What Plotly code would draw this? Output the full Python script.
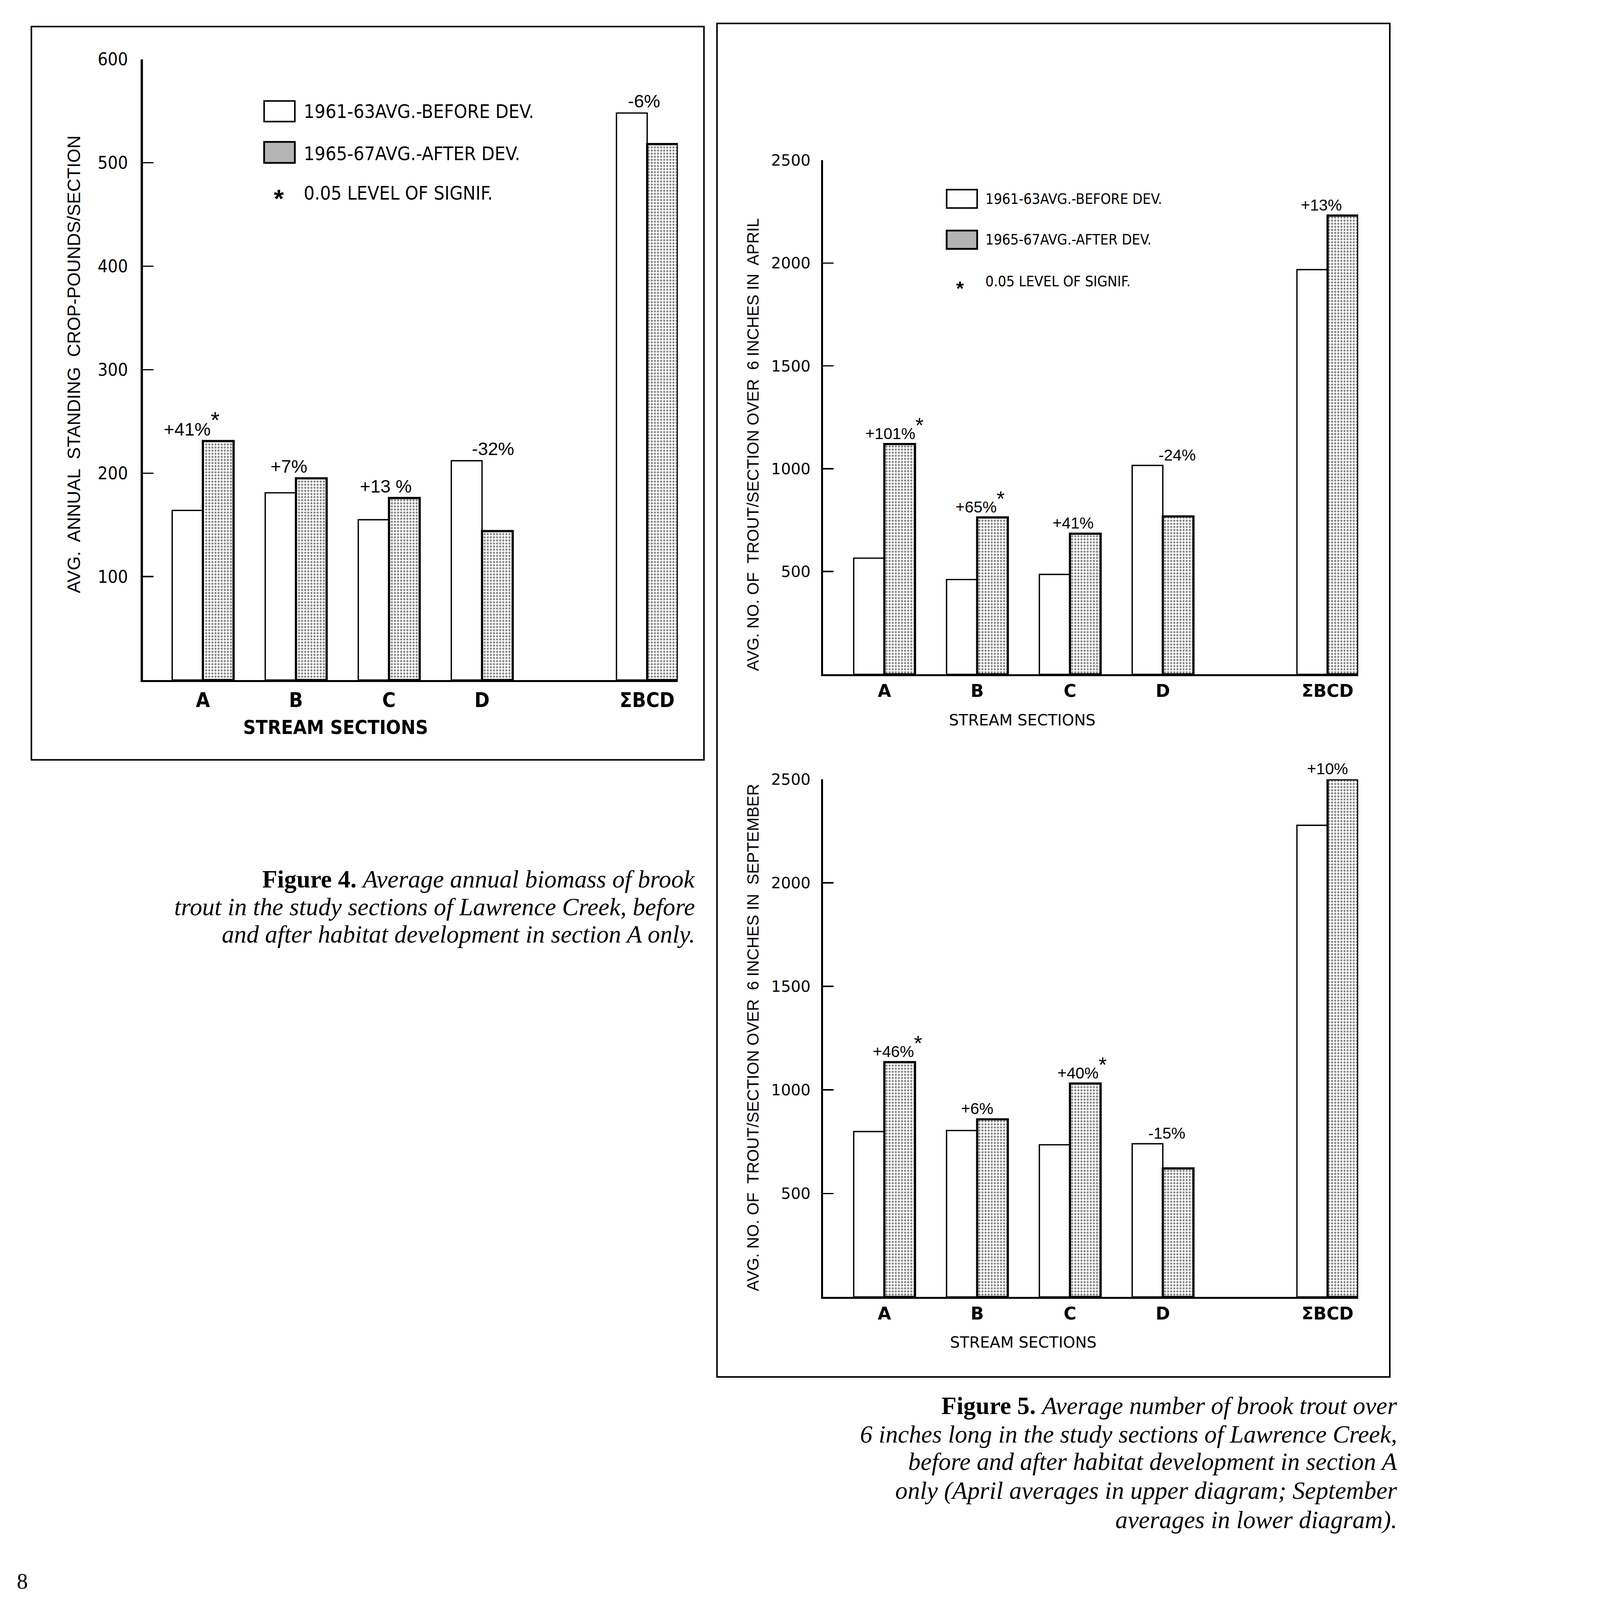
import plotly.graph_objects as go

# ---------------- data ----------------
categories = ["A", "B", "C", "D", "ΣBCD"]

# Figure 4: average annual standing crop (pounds/section)
biomass_before = [164, 181, 155, 212, 548]
biomass_after = [231, 195, 176, 144, 518]
biomass_change = ["+41%", "+7%", "+13 %", "-32%", "-6%"]
biomass_signif = [True, False, False, False, False]
biomass_ticks = [100, 200, 300, 400, 500, 600]

# Figure 5 (upper): trout over 6 inches in April
april_before = [565, 461, 486, 1016, 1968]
april_after = [1120, 763, 684, 768, 2231]
april_change = ["+101%", "+65%", "+41%", "-24%", "+13%"]
april_signif = [True, True, False, False, False]

# Figure 5 (lower): trout over 6 inches in September
sept_before = [799, 804, 735, 740, 2278]
sept_after = [1134, 858, 1031, 621, 2500]
sept_change = ["+46%", "+6%", "+40%", "-15%", "+10%"]
sept_signif = [True, False, True, False, False]

count_ticks = [500, 1000, 1500, 2000, 2500]

legend_texts = ["1961-63AVG.-BEFORE DEV.", "1965-67AVG.-AFTER DEV.", "0.05 LEVEL OF SIGNIF."]

# ---------------- layout constants ----------------
W, H = 6415, 7239
X_POS = [1, 2, 3, 4, 5.775]
BAR_W = 0.33

NARROW = "Liberation Sans Narrow, Arial Narrow, DejaVu Sans Condensed, Liberation Sans, sans-serif"
WIDE = "DejaVu Sans, Verdana, sans-serif"
SANS = "Liberation Sans, Arial, sans-serif"
SERIF = "Liberation Serif, Times New Roman, serif"


def px(x):
    return x / W


def py(y):
    return 1 - y / H


fig = go.Figure()

panels = [
    dict(ax="", before=biomass_before, after=biomass_after, change=biomass_change,
         signif=biomass_signif, ticks=biomass_ticks, yrange=[0, 600],
         xr=[0.354, 6.105], xdom=(646, 3067), ydom=(3077, 268),
         tickfont=dict(family=NARROW, size=80), tstand=42,
         xtickfont=dict(family=NARROW, size=92, weight="bold"), xstand=2,
         lblfont=dict(family=SANS, size=82), astsize=104,
         dx=[-50, -32, -14, 50, -14]),
    dict(ax="2", before=april_before, after=april_after, change=april_change,
         signif=april_signif, ticks=count_ticks, yrange=[0, 2500],
         xr=[0.34, 6.105], xdom=(3724, 6145), ydom=(3051, 725),
         tickfont=dict(family=WIDE, size=70), tstand=34,
         xtickfont=dict(family=WIDE, size=78, weight="bold"), xstand=0,
         lblfont=dict(family=SANS, size=72), astsize=96,
         dx=[46, 14, 14, 65, -28]),
    dict(ax="3", before=sept_before, after=sept_after, change=sept_change,
         signif=sept_signif, ticks=count_ticks, yrange=[0, 2500],
         xr=[0.34, 6.105], xdom=(3724, 6145), ydom=(5868, 3526),
         tickfont=dict(family=WIDE, size=70), tstand=34,
         xtickfont=dict(family=WIDE, size=78, weight="bold"), xstand=0,
         lblfont=dict(family=SANS, size=72), astsize=96,
         dx=[60, 0, 55, 18, 0]),
]

annotations = []
layout_axes = {}

for p in panels:
    xa, ya = "x" + p["ax"], "y" + p["ax"]
    fig.add_trace(go.Bar(
        x=X_POS, y=p["before"], width=BAR_W, offset=-BAR_W,
        marker=dict(color="white", line=dict(color="black", width=6)),
        xaxis=xa, yaxis=ya, showlegend=False, hoverinfo="skip"))
    fig.add_trace(go.Bar(
        x=X_POS, y=p["after"], width=BAR_W, offset=0,
        marker=dict(color="white", line=dict(color="black", width=10),
                    pattern=dict(shape=".", fgcolor="black", bgcolor="white",
                                 size=14, solidity=0.34)),
        xaxis=xa, yaxis=ya, showlegend=False, hoverinfo="skip"))

    layout_axes["xaxis" + p["ax"]] = dict(
        domain=[px(p["xdom"][0]), px(p["xdom"][1])], range=p["xr"], anchor=ya,
        showline=True, linewidth=9, linecolor="black", ticks="",
        tickvals=X_POS, ticktext=categories, tickfont=dict(color="black", **p["xtickfont"]),
        ticklabelstandoff=p["xstand"], showgrid=False, zeroline=False, fixedrange=True)
    layout_axes["yaxis" + p["ax"]] = dict(
        domain=[py(p["ydom"][0]), py(p["ydom"][1])], range=p["yrange"], anchor=xa,
        showline=True, linewidth=9, linecolor="black", ticks="inside",
        ticklen=48, tickwidth=6, tickcolor="black", tickvals=p["ticks"],
        tickfont=dict(color="black", **p["tickfont"]), ticklabelstandoff=p["tstand"],
        showgrid=False, zeroline=False, fixedrange=True)

    for i, txt in enumerate(p["change"]):
        star = ("<sup><span style='font-size:%dpx'>*</span></sup>" % p["astsize"]) if p["signif"][i] else ""
        annotations.append(dict(
            x=X_POS[i], y=max(p["before"][i], p["after"][i]), xref=xa, yref=ya,
            text=txt + star, showarrow=False, xanchor="center", yanchor="bottom",
            xshift=p["dx"][i], yshift=6, font=dict(color="black", **p["lblfont"])))


def paper_text(x, y, text, font, xanchor="left", yanchor="middle", angle=0):
    annotations.append(dict(x=px(x), y=py(y), xref="paper", yref="paper", text=text,
                            showarrow=False, xanchor=xanchor, yanchor=yanchor,
                            textangle=angle, font=dict(color="black", **font)))


# axis titles
paper_text(335, 1648, "AVG.  ANNUAL  STANDING  CROP-POUNDS/SECTION",
           dict(family=SANS, size=82), xanchor="center", angle=-90)
paper_text(1518, 3290, "STREAM SECTIONS", dict(family=NARROW, size=88, weight="bold"),
           xanchor="center")
paper_text(3406, 2012, "AVG. NO. OF  TROUT/SECTION OVER  6 INCHES IN  APRIL",
           dict(family=SANS, size=74), xanchor="center", angle=-90)
paper_text(4624, 3258, "STREAM SECTIONS", dict(family=WIDE, size=70), xanchor="center")
paper_text(3406, 4694, "AVG. NO. OF  TROUT/SECTION OVER  6 INCHES IN  SEPTEMBER",
           dict(family=SANS, size=74), xanchor="center", angle=-90)
paper_text(4629, 6073, "STREAM SECTIONS", dict(family=WIDE, size=70), xanchor="center")

shapes = []


def box(x0, y0, x1, y1, width, fill="rgba(0,0,0,0)"):
    shapes.append(dict(type="rect", xref="paper", yref="paper",
                       x0=px(x0), x1=px(x1), y0=py(y1), y1=py(y0),
                       line=dict(color="black", width=width), fillcolor=fill))


# frames around the figures
box(142, 120, 3185, 3438, 7)
box(3244, 106, 6288, 6230, 7)

# legends (figure 4 and figure 5 upper)
legends = [
    dict(x0=1195, x1=1334, rows=[(457, 550), (642, 737)], ast=(1262, 876),
         tx=1372, ty=[503, 694, 873], font=dict(family=NARROW, size=86)),
    dict(x0=4283, x1=4421, rows=[(858, 941), (1043, 1126)], ast=(4343, 1283),
         tx=4456, ty=[900, 1085, 1274], font=dict(family=NARROW, size=66)),
]
for lg in legends:
    box(lg["x0"], lg["rows"][0][0], lg["x1"], lg["rows"][0][1], 7, "white")
    box(lg["x0"], lg["rows"][1][0], lg["x1"], lg["rows"][1][1], 8, "#b4b4b4")
    paper_text(lg["ast"][0], lg["ast"][1] + 22, "*",
               dict(family=SANS, size=int(lg["font"]["size"] * 1.35), weight="bold"),
               xanchor="center")
    for t, yy in zip(legend_texts, lg["ty"]):
        paper_text(lg["tx"], yy, t, lg["font"])

# captions
cap4 = ["<b>Figure 4.</b> <i>Average annual biomass of brook</i>",
        "<i>trout in the study sections of Lawrence Creek, before</i>",
        "<i>and after habitat development in section A only.</i>"]
for t, yy in zip(cap4, [3978, 4103, 4227]):
    paper_text(3147, yy, t, dict(family=SERIF, size=112), xanchor="right")

cap5 = ["<b>Figure 5.</b> <i>Average number of brook trout over</i>",
        "<i>6 inches long in the study sections of Lawrence Creek,</i>",
        "<i>before and after habitat development in section A</i>",
        "<i>only (April averages in upper diagram; September</i>",
        "<i>averages in lower diagram).</i>"]
for t, yy in zip(cap5, [6360, 6489, 6613, 6743, 6876]):
    paper_text(6323, yy, t, dict(family=SERIF, size=112), xanchor="right")

paper_text(101, 7153, "8", dict(family=SERIF, size=100), xanchor="center")

fig.update_layout(
    width=W, height=H, margin=dict(l=0, r=0, t=0, b=0, autoexpand=False),
    paper_bgcolor="white", plot_bgcolor="white", barmode="overlay",
    showlegend=False, annotations=annotations, shapes=shapes, **layout_axes)

# scale the fixed-size figure so that it fits whatever CSS viewport the page gets
fit_js = """
var gd = document.getElementById('{plot_id}');
document.documentElement.style.overflow = 'hidden';
document.body.style.margin = '0';
document.body.style.overflow = 'hidden';
function fitFigure() {
  var s = Math.min(window.innerWidth / %d, window.innerHeight / %d);
  if (s > 1) { s = 1; }
  gd.style.transformOrigin = '0 0';
  gd.style.transform = 'scale(' + s + ')';
}
fitFigure();
window.addEventListener('resize', fitFigure);
""" % (W, H)

fig.write_html("out.html", post_script=fit_js,
               config={"displayModeBar": False, "staticPlot": True})
